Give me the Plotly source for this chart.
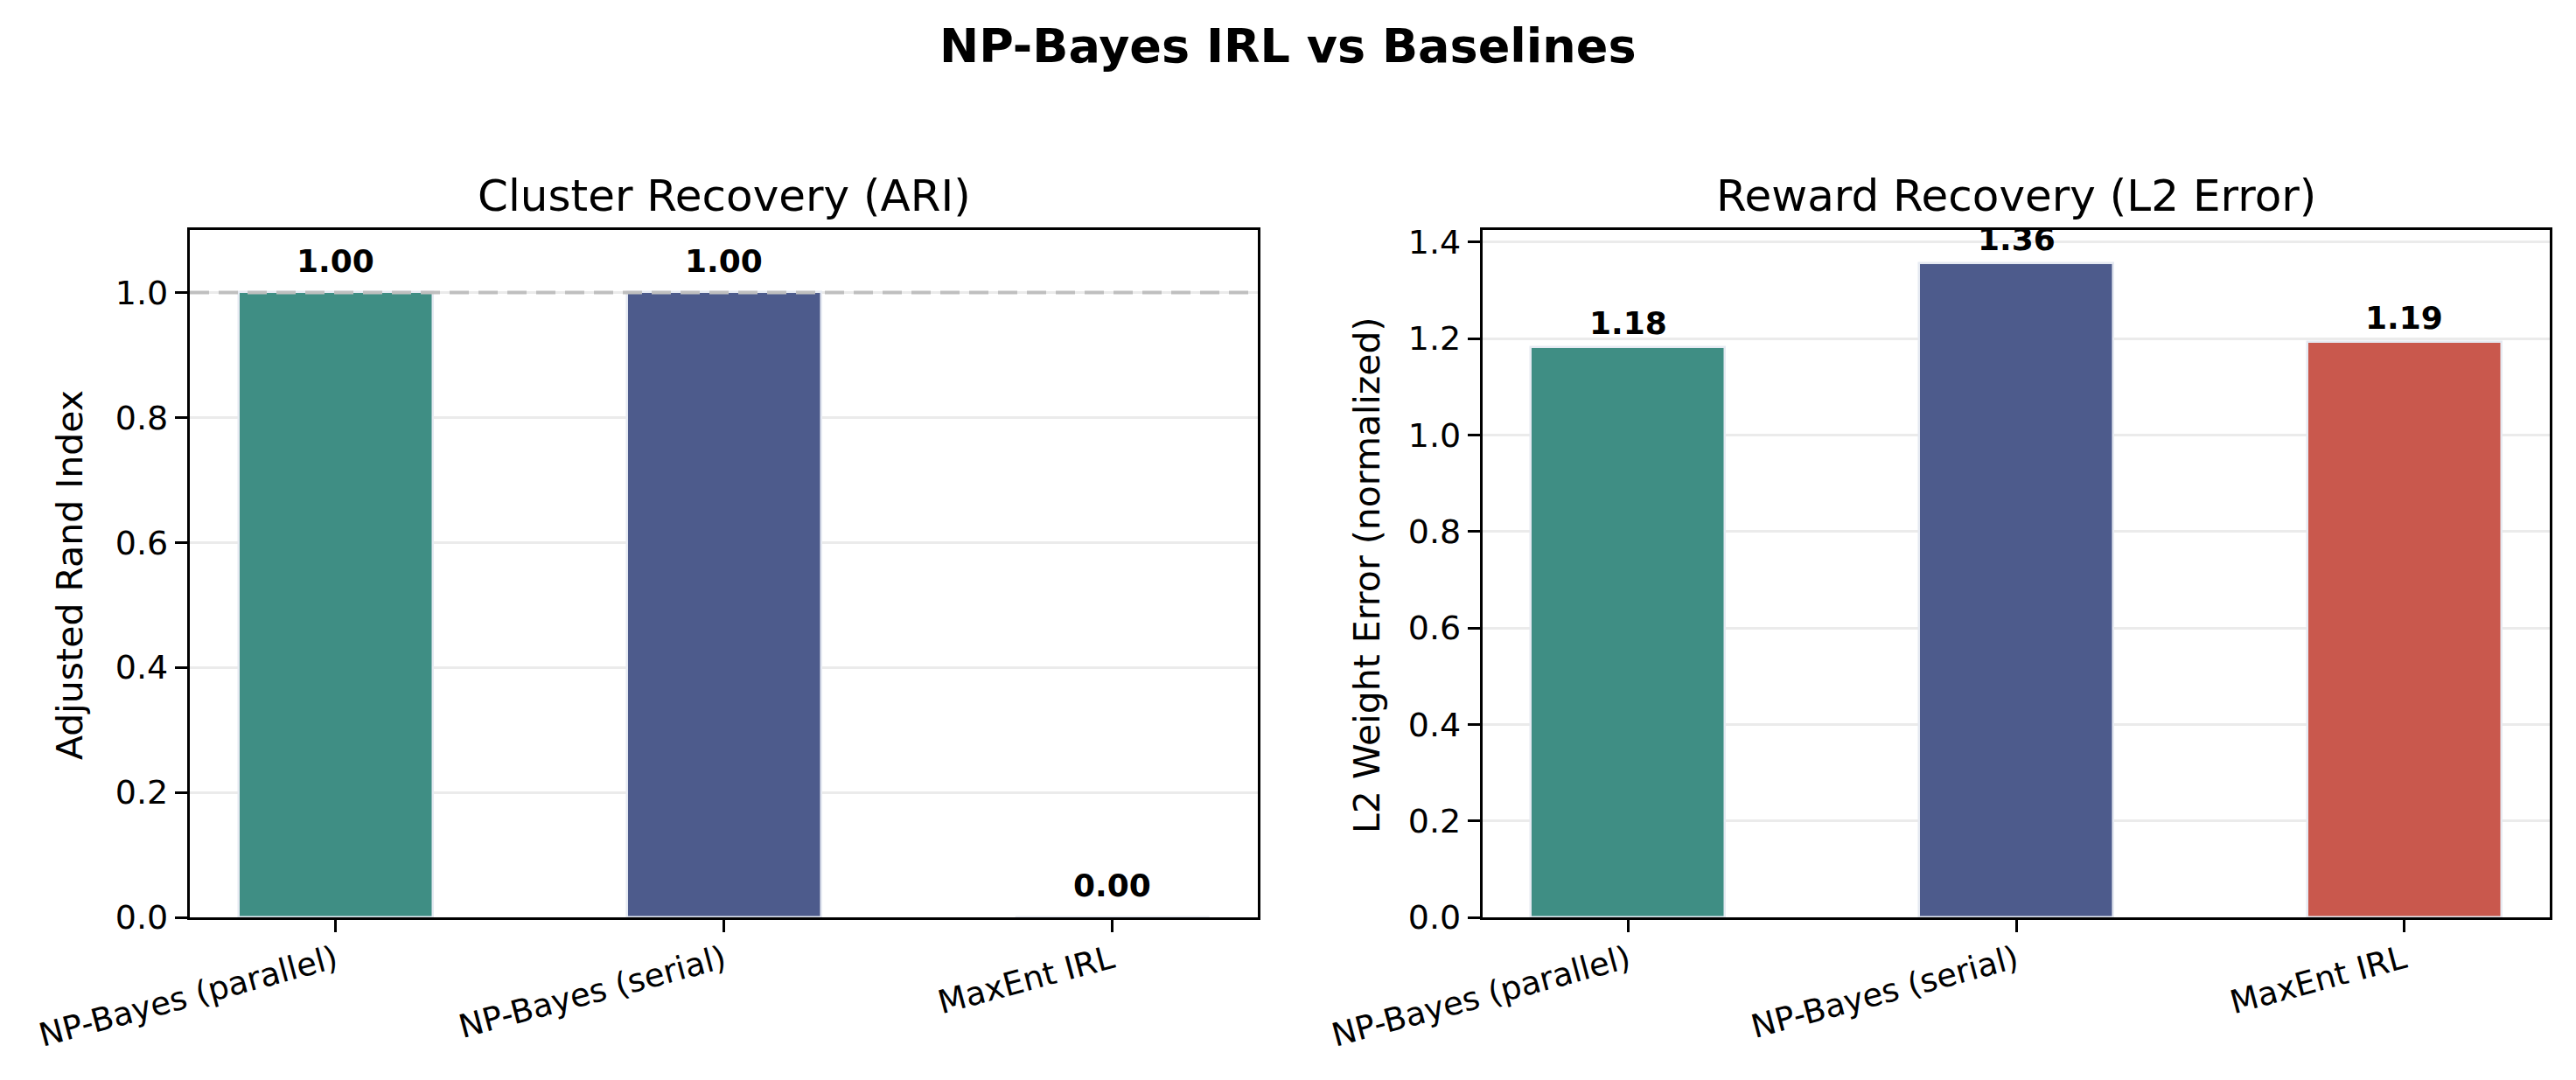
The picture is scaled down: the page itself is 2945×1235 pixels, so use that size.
import plotly.graph_objects as go
from plotly.subplots import make_subplots

# ── データ ──────────────────────────────────────────────
methods = ['NP-Bayes (parallel)', 'NP-Bayes (serial)', 'MaxEnt IRL']
ari_vals = [1.0, 1.0, 0.0]
l2_vals = [1.182, 1.357, 1.193]
ari_ticks = [0.0, 0.2, 0.4, 0.6, 0.8, 1.0]
l2_ticks = [0.0, 0.2, 0.4, 0.6, 0.8, 1.0, 1.2, 1.4]
bar_colors = ['#3f8e84', '#4d5b8c', '#c9584d']

FONT = 'DejaVu Sans'
W, H = 2945, 1235
OFF = 8  # ページ本体の余白ぶん補正

def px(x_from_left):
    return (x_from_left - OFF) / W

def py(y_from_top):
    return (H - (y_from_top - OFF)) / H

fig = make_subplots(rows=1, cols=2)

xpos = list(range(len(methods)))
for col, vals in [(1, ari_vals), (2, l2_vals)]:
    fig.add_trace(go.Bar(x=xpos, y=vals, width=0.5,
                         marker=dict(color=bar_colors, line=dict(color='#e6eaf2', width=2.5)),
                         hoverinfo='skip', showlegend=False), row=1, col=col)

# 値ラベル
for i, v in enumerate(ari_vals):
    fig.add_annotation(x=i, y=v + 0.032, xref='x', yref='y', text=f'<b>{v:.2f}</b>',
                       showarrow=False, xanchor='center', yanchor='bottom', yshift=-9,
                       font=dict(family=FONT, size=36, color='black'))
for i, v in enumerate(l2_vals):
    fig.add_annotation(x=i, y=v + 0.025, xref='x2', yref='y2', text=f'<b>{v:.2f}</b>',
                       showarrow=False, xanchor='center', yanchor='bottom', yshift=-9,
                       font=dict(family=FONT, size=36, color='black'))

# 完全一致ライン (ARI=1)
fig.add_shape(type='line', xref='x domain', yref='y', x0=0, x1=1, y0=1.0, y1=1.0,
              line=dict(color='#bfbfbf', width=4, dash='22px,11px'))

axis_common = dict(showline=True, linecolor='black', linewidth=3.3, mirror=True,
                   ticks='outside', ticklen=14, tickwidth=3.3, tickcolor='black',
                   zeroline=False, automargin=False)

fig.update_xaxes(**axis_common, showgrid=False, tickmode='array', tickvals=xpos,
                 ticktext=methods, tickangle=-15, range=[-0.375, 2.375],
                 ticklabelstandoff=-4,
                 tickfont=dict(family=FONT, size=37, color='black'))
fig.update_yaxes(**axis_common, showgrid=True, gridcolor='#ebebeb', gridwidth=3,
                 tickfont=dict(family=FONT, size=38, color='black'))
fig.update_yaxes(range=[0, 1.1], tickvals=ari_ticks, ticktext=[f'{t:.1f}' for t in ari_ticks],
                 row=1, col=1)
fig.update_yaxes(range=[0, 1.425], tickvals=l2_ticks, ticktext=[f'{t:.1f}' for t in l2_ticks],
                 row=1, col=2)

fig.update_layout(
    xaxis=dict(domain=[px(217), px(1438)]),
    xaxis2=dict(domain=[px(1695), px(2915)]),
    yaxis=dict(domain=[py(1049), py(263)]),
    yaxis2=dict(domain=[py(1049), py(263)]),
)

# タイトル類
fig.add_annotation(x=px(1472), y=py(52), xref='paper', yref='paper',
                   text='<b>NP-Bayes IRL vs Baselines</b>', showarrow=False,
                   xanchor='center', yanchor='middle',
                   font=dict(family=FONT, size=54, color='black'))
fig.add_annotation(x=px((217 + 1438) / 2), y=py(224), xref='paper', yref='paper',
                   text='Cluster Recovery (ARI)', showarrow=False,
                   xanchor='center', yanchor='middle',
                   font=dict(family=FONT, size=50, color='black'))
fig.add_annotation(x=px((1695 + 2915) / 2), y=py(224), xref='paper', yref='paper',
                   text='Reward Recovery (L2 Error)', showarrow=False,
                   xanchor='center', yanchor='middle',
                   font=dict(family=FONT, size=50, color='black'))
fig.add_annotation(x=px(80), y=py(658), xref='paper', yref='paper',
                   text='Adjusted Rand Index', textangle=-90, showarrow=False,
                   xanchor='center', yanchor='middle',
                   font=dict(family=FONT, size=41, color='black'))
fig.add_annotation(x=px(1563), y=py(658), xref='paper', yref='paper',
                   text='L2 Weight Error (normalized)', textangle=-90, showarrow=False,
                   xanchor='center', yanchor='middle',
                   font=dict(family=FONT, size=41, color='black'))

fig.update_layout(width=W, height=H,
                  margin=dict(l=0, r=0, t=0, b=0, pad=0, autoexpand=False),
                  plot_bgcolor='white', paper_bgcolor='white',
                  font=dict(family=FONT, color='black'), bargap=0)

fig.write_html('out.html')
